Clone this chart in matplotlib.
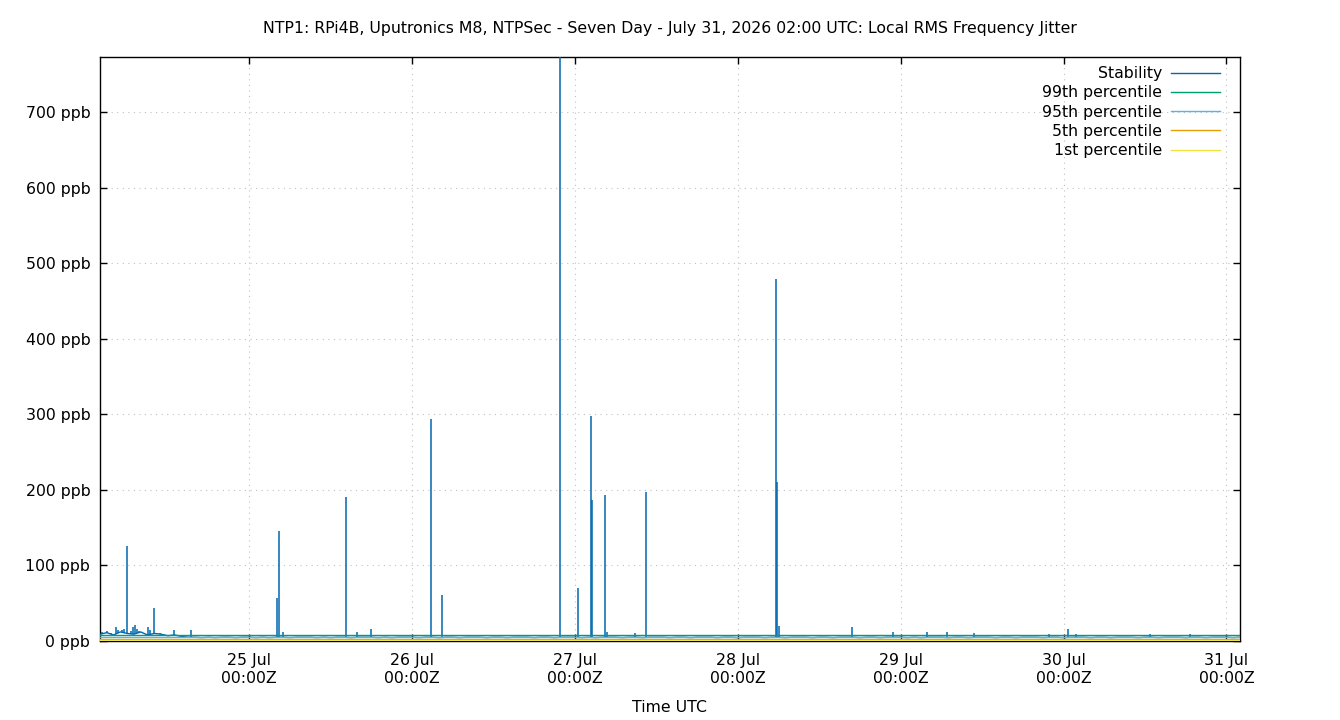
import datetime as dt

import matplotlib
matplotlib.use("Agg")
import matplotlib.dates as mdates
import matplotlib.pyplot as plt
import numpy as np
from matplotlib.ticker import FuncFormatter, MultipleLocator

TITLE = ("NTP1: RPi4B, Uputronics M8, NTPSec - Seven Day - July 31, 2026 02:00 UTC: "
         "Local RMS Frequency Jitter")
START = dt.datetime(2026, 7, 24, 2, 0)
END = dt.datetime(2026, 7, 31, 2, 0)

# stability trace, one value per hour after START (ppb)
base_ppb = [
    9, 11, 8, 12, 10, 9, 12, 8, 10, 9, 7, 8,
    6, 5, 5, 4.5, 5, 4.5, 5, 5, 4.5, 5, 5, 4.5,
    5, 4.5, 5, 5, 4.5, 5, 5, 5, 4.5, 5, 4.5, 5,
    5, 4.5, 5, 5, 5, 4.5, 5, 4.5, 5, 5, 5, 4.5,
    5, 5, 4.5, 5, 5, 4.5, 5, 5, 5, 4.5, 5, 5,
    4.5, 5, 5, 5, 4.5, 5, 5, 4.5, 5, 5, 5, 4.5,
    5, 4.5, 5, 5, 5, 4.5, 5, 5, 4.5, 5, 5, 5,
    4.5, 5, 5, 4.5, 5, 5, 5, 4.5, 5, 5, 4.5, 5,
    5, 5, 4.5, 5, 5, 4.5, 5, 5, 5, 4.5, 5, 5,
    4.5, 5, 5, 5, 4.5, 5, 5, 4.5, 5, 5, 5, 4.5,
    5, 4.5, 5, 5, 5, 4.5, 5, 5, 4.5, 5, 5, 5,
    4.5, 5, 5, 4.5, 5, 5, 5, 4.5, 5, 5, 4.5, 5,
    5, 5, 4.5, 5, 5, 4.5, 5, 5, 5, 4.5, 5, 5,
    4.5, 5, 5, 5, 4.5, 5, 5, 4.5, 5, 5, 5, 4.5,
    5,
]

# short excursions of the stability trace: hours after START, peak ppb
spike_hours = [0.3, 0.98, 1.6, 2.3, 2.7, 3.2, 3.6, 4.03, 4.6, 4.9, 5.15, 5.5, 5.8,
               6.3, 7.0, 7.3, 8.0, 8.8, 10.9, 13.35,
               26.1, 26.45, 27.0, 36.3, 37.9, 39.9, 48.8, 50.35,
               67.8, 70.4, 72.35, 72.45, 74.35, 74.75, 78.9, 80.4,
               99.6, 99.7, 100.0, 110.8, 116.8, 121.8, 124.8, 128.8,
               139.8, 142.7, 143.8, 154.8, 160.7]
spike_ppb = [12, 13, 11, 19, 15, 14.5, 16, 125.7, 13, 18, 21, 16, 13,
             11, 19, 14, 43.7, 11, 14.5, 15,
             57, 145.5, 12, 190, 12, 16, 293.8, 61,
             800, 70, 297.7, 186.6, 192.8, 12, 10, 197,
             478.6, 210.8, 20, 18.5, 11.5, 11.5, 11.5, 10,
             9, 16, 9, 9, 9]

pct_labels = ["99th percentile", "95th percentile", "5th percentile", "1st percentile"]
pct_ppb = [8.0, 5.0, 2.4, 1.4]
pct_colors = ["#009e73", "#56b4e9", "#e69f00", "#f0e442"]
stab_color = "#0068b0"

FS = 11.3

base_hours = np.arange(len(base_ppb))
base_t = [START + dt.timedelta(hours=float(h)) for h in base_hours]
spike_t = [START + dt.timedelta(hours=h) for h in spike_hours]
spike_floor = np.interp(spike_hours, base_hours, base_ppb)

fig = plt.figure(figsize=(13.4, 7.2), dpi=100)
ax = fig.add_axes([100 / 1340, 1 - 641 / 720, 1140 / 1340, 584 / 720])

ax.plot(base_t, base_ppb, color=stab_color, lw=1.0, label="Stability", zorder=3)
ax.vlines(spike_t, spike_floor, spike_ppb, color=stab_color, lw=1.1, zorder=3)
for lab, val, col in zip(pct_labels, pct_ppb, pct_colors):
    ax.axhline(val, color=col, lw=1.0, label=lab, zorder=4)

ax.set_xlim(START, END)
ax.set_ylim(0, 773)

ax.yaxis.set_major_locator(MultipleLocator(100))
ax.yaxis.set_major_formatter(FuncFormatter(lambda v, p: f"{v:.0f} ppb"))
ax.xaxis.set_major_locator(mdates.DayLocator())
ax.xaxis.set_major_formatter(mdates.DateFormatter("%d %b\n%H:%MZ"))

ax.tick_params(direction="in", length=5, width=1, top=True, right=True, labelsize=FS)
ax.tick_params(axis="x", pad=9)
ax.tick_params(axis="y", pad=7)
ax.grid(True, color="#c0c0c0", linestyle=(0, (1, 4)), lw=0.8)
for s in ax.spines.values():
    s.set_linewidth(1)

ax.set_xlabel("Time UTC", fontsize=FS, labelpad=10)
ax.set_title(TITLE, fontsize=FS, pad=17)

ax.legend(loc="upper right", bbox_to_anchor=(0.988, 0.995), frameon=False,
          markerfirst=False, fontsize=FS, handlelength=3.1, labelspacing=0.27,
          handletextpad=0.6, borderaxespad=0)

fig.savefig("out.png", dpi=100)
